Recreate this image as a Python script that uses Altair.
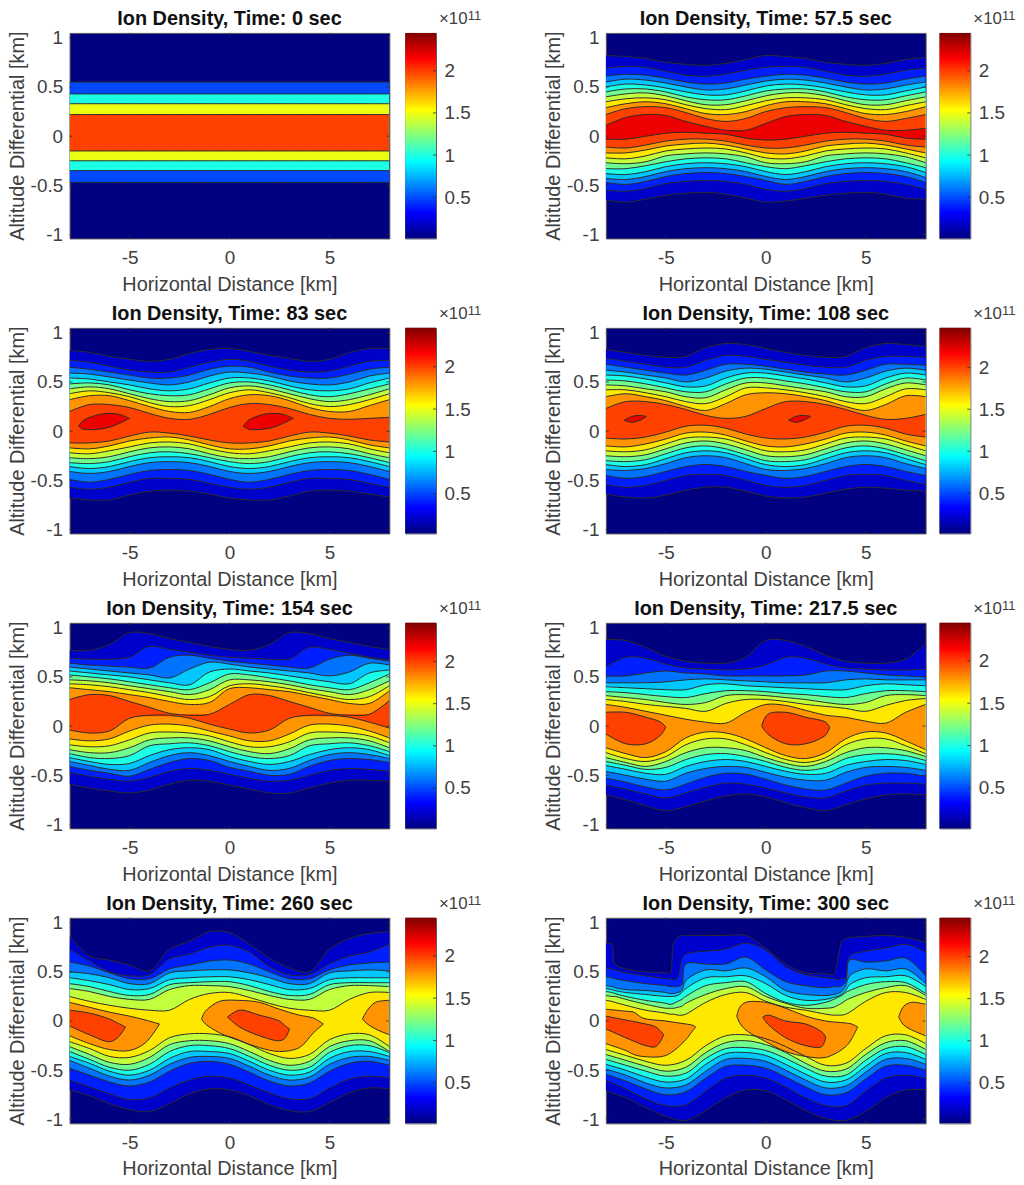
import pandas as pd
import altair as alt

# one x grid for most contour lines, km
X_KM = [-8, -7, -6, -5, -4, -3, -2, -1, 0, 1, 2, 3, 4, 5, 6, 7, 8]
# finer knots for the steep top edges in the last panel
X_KM_300 = [-8, -7.7, -7.55, -7, -6, -5, -4.8, -4.6, -4.4, -4.2, -4, -3, -2, -1, 0, 1, 2, 3,
            3.4, 3.6, 3.8, 4, 4.2, 5, 6, 7, 8]

TITLES = ["Ion Density, Time: 0 sec", "Ion Density, Time: 57.5 sec",
          "Ion Density, Time: 83 sec", "Ion Density, Time: 108 sec",
          "Ion Density, Time: 154 sec", "Ion Density, Time: 217.5 sec",
          "Ion Density, Time: 260 sec", "Ion Density, Time: 300 sec"]

# contour heights are in hundredths of a km, outermost line first
LEVELS_0 = [0.5, 1.0, 1.5, 2.0]
UP_0 = [[55] * 17, [43] * 17, [33] * 17, [22] * 17]
LOW_0 = [[-47] * 17, [-35] * 17, [-25] * 17, [-15] * 17]

LEVELS_575 = [0.2, 0.4, 0.6, 0.8, 1.0, 1.2, 1.4, 1.6, 1.8, 2.0, 2.2]
UP_575 = [
    [82, 81, 79, 75, 73, 72, 74, 78, 82, 81, 79, 75, 73, 72, 74, 78, 80],
    [69, 71, 70, 66, 62, 61, 63, 67, 70, 71, 70, 66, 62, 61, 63, 67, 69],
    [61, 63, 62, 59, 55, 53, 54, 58, 61, 63, 62, 59, 55, 53, 54, 58, 61],
    [55, 58, 57, 54, 50, 47, 48, 52, 56, 58, 57, 54, 50, 47, 48, 52, 55],
    [50, 53, 52, 49, 45, 42, 42, 46, 51, 53, 52, 49, 45, 42, 42, 46, 50],
    [45, 48, 48, 45, 40, 37, 37, 41, 46, 48, 48, 45, 40, 37, 37, 41, 45],
    [40, 43, 44, 41, 36, 32, 32, 36, 41, 44, 44, 41, 36, 32, 32, 36, 40],
    [35, 38, 39, 37, 32, 28, 27, 31, 36, 39, 39, 37, 32, 28, 27, 31, 35],
    [29, 33, 35, 33, 28, 23, 22, 25, 31, 35, 35, 33, 28, 23, 22, 25, 30],
    [22, 28, 30, 29, 24, 18, 15, 18, 25, 29, 30, 29, 24, 18, 15, 18, 22],
    [11, 19, 22, 21, 15, 10, 6, 6, 13, 20, 22, 21, 15, 10, 6, 6, 8],
]
LOW_575 = [
    [-65, -67, -64, -60, -58, -57, -59, -63, -67, -66, -63, -60, -58, -57, -59, -63, -64],
    [-55, -56, -53, -48, -46, -45, -46, -49, -54, -56, -53, -48, -46, -45, -46, -49, -54],
    [-47, -49, -46, -41, -38, -37, -38, -41, -45, -49, -46, -41, -38, -37, -38, -41, -47],
    [-43, -44, -41, -36, -33, -32, -33, -36, -41, -44, -41, -36, -33, -32, -33, -36, -42],
    [-38, -39, -36, -31, -28, -27, -28, -31, -36, -39, -36, -31, -28, -27, -28, -31, -37],
    [-33, -33, -30, -26, -23, -22, -23, -27, -31, -33, -30, -26, -23, -22, -23, -27, -32],
    [-27, -28, -26, -20, -18, -17, -18, -21, -27, -28, -26, -20, -18, -17, -18, -21, -27],
    [-22, -23, -20, -15, -13, -12, -13, -17, -22, -23, -20, -15, -13, -12, -13, -17, -22],
    [-17, -17, -14, -10, -8, -7, -9, -13, -17, -18, -15, -10, -8, -7, -9, -13, -17],
    [-11, -12, -9, -5, -3, -3, -5, -9, -12, -12, -9, -5, -3, -3, -5, -9, -11],
    [-3, -3, 0, 3, 4, 3, 2, -2, -4, -3, 0, 3, 4, 3, 2, -2, -3],
]

LEVELS_83 = [0.2, 0.4, 0.6, 0.8, 1.0, 1.2, 1.4, 1.6, 1.8, 2.0]
UP_83 = [
    [82, 80, 76, 73, 71, 73, 79, 83, 84, 81, 77, 74, 71, 73, 80, 84, 84],
    [72, 70, 66, 62, 60, 60, 65, 70, 73, 71, 66, 62, 60, 61, 66, 71, 72],
    [65, 63, 60, 57, 54, 54, 57, 63, 66, 65, 60, 56, 54, 54, 58, 63, 65],
    [59, 58, 55, 52, 49, 47, 50, 56, 60, 59, 56, 51, 48, 47, 50, 56, 59],
    [54, 53, 50, 47, 43, 41, 43, 49, 54, 54, 51, 46, 42, 41, 43, 49, 54],
    [48, 49, 47, 42, 38, 36, 37, 43, 49, 50, 47, 42, 37, 35, 38, 43, 48],
    [43, 45, 43, 38, 33, 30, 31, 37, 44, 46, 43, 38, 33, 30, 32, 37, 43],
    [38, 41, 39, 35, 29, 25, 26, 32, 39, 42, 39, 34, 28, 25, 27, 32, 38],
    [32, 36, 36, 31, 25, 20, 19, 25, 33, 37, 36, 31, 24, 20, 20, 26, 32],
    [20, 27, 27, 24, 18, 13, 12, 17, 24, 28, 27, 23, 17, 13, 12, 13, 14],
]
LOW_83 = [
    [-68, -70, -70, -65, -61, -60, -61, -64, -68, -70, -70, -66, -61, -60, -61, -64, -67],
    [-57, -59, -57, -52, -48, -48, -49, -53, -57, -59, -57, -52, -48, -48, -49, -53, -57],
    [-49, -52, -49, -44, -40, -39, -40, -44, -49, -52, -49, -44, -40, -39, -40, -44, -49],
    [-41, -43, -41, -36, -32, -31, -32, -36, -41, -43, -41, -36, -32, -31, -32, -36, -41],
    [-36, -38, -36, -31, -27, -26, -27, -31, -36, -38, -36, -31, -27, -26, -27, -31, -36],
    [-32, -33, -31, -26, -22, -21, -23, -27, -31, -33, -31, -26, -22, -21, -23, -27, -32],
    [-27, -28, -26, -21, -17, -16, -18, -23, -27, -28, -26, -21, -17, -16, -18, -23, -27],
    [-22, -23, -20, -16, -12, -11, -13, -18, -22, -23, -20, -16, -12, -11, -13, -18, -22],
    [-17, -18, -15, -10, -7, -6, -9, -14, -18, -18, -15, -10, -7, -6, -9, -14, -17],
    [-12, -12, -10, -5, -1, -2, -5, -9, -12, -12, -10, -5, -1, -2, -5, -9, -11],
]
ISLES_83 = [
    (2.2, [-7.55, -7.3, -6.5, -6, -5.5, -5], [5, 11, 17, 18, 17, 13], [5, 2, 2, 4, 8, 13]),
    (2.2, [0.7, 0.95, 1.7, 2.2, 2.7, 3.2], [5, 11, 17, 18, 17, 13], [5, 2, 2, 4, 8, 13]),
]

LEVELS_108 = [0.2, 0.4, 0.6, 0.8, 1.0, 1.2, 1.4, 1.6, 1.8, 2.0]
UP_108 = [
    [83, 80, 77, 75, 76, 85, 89, 88, 84, 80, 77, 75, 76, 85, 89, 88, 86],
    [74, 71, 68, 65, 65, 72, 77, 76, 73, 70, 67, 65, 65, 72, 76, 76, 75],
    [68, 65, 62, 59, 57, 62, 68, 68, 66, 63, 60, 58, 57, 62, 68, 68, 67],
    [62, 60, 57, 54, 50, 54, 61, 64, 63, 60, 57, 54, 50, 54, 61, 64, 62],
    [57, 56, 53, 49, 45, 46, 54, 59, 59, 56, 53, 49, 45, 46, 54, 59, 57],
    [52, 51, 48, 44, 40, 40, 48, 54, 54, 51, 48, 44, 40, 40, 48, 54, 52],
    [47, 46, 43, 40, 35, 34, 42, 49, 49, 46, 43, 40, 35, 35, 43, 49, 47],
    [42, 42, 39, 35, 30, 28, 35, 44, 44, 42, 39, 35, 30, 28, 35, 43, 42],
    [35, 38, 35, 31, 25, 21, 28, 37, 39, 38, 35, 31, 25, 21, 27, 36, 35],
    [23, 30, 30, 27, 22, 16, 13, 15, 23, 30, 30, 27, 22, 16, 12, 13, 17],
]
LOW_108 = [
    [-64, -67, -68, -65, -60, -57, -57, -61, -66, -68, -67, -63, -59, -57, -58, -60, -61],
    [-54, -57, -55, -50, -45, -44, -45, -50, -55, -57, -55, -50, -45, -44, -45, -50, -54],
    [-45, -48, -46, -41, -36, -34, -36, -41, -45, -48, -46, -41, -36, -34, -36, -41, -45],
    [-39, -40, -38, -33, -27, -25, -27, -33, -39, -40, -38, -33, -27, -25, -27, -33, -38],
    [-34, -36, -34, -28, -22, -20, -22, -28, -34, -36, -34, -28, -22, -20, -22, -28, -34],
    [-30, -31, -29, -23, -17, -15, -18, -24, -30, -31, -29, -23, -17, -15, -18, -24, -30],
    [-25, -26, -24, -18, -12, -10, -13, -19, -25, -26, -24, -18, -12, -10, -13, -19, -25],
    [-20, -21, -19, -13, -7, -6, -8, -14, -20, -21, -19, -13, -7, -6, -8, -14, -20],
    [-15, -16, -13, -8, -2, -1, -4, -10, -15, -16, -13, -8, -2, -1, -4, -10, -15],
    [-7, -8, -6, -1, 5, 6, 3, -3, -7, -8, -6, -1, 5, 6, 3, -3, -6],
]
ISLES_108 = [
    (2.2, [-7.08, -6.7, -6.3, -5.97], [11, 15, 16, 15], [11, 9, 11, 15]),
    (2.2, [1.14, 1.5, 1.9, 2.25], [11, 15, 16, 15], [11, 9, 11, 15]),
]

LEVELS_154 = [0.2, 0.4, 0.6, 0.8, 1.0, 1.2, 1.4, 1.6, 1.8, 2.0]
UP_154 = [
    [77, 77, 83, 95, 94, 89, 85, 81, 78, 77, 83, 95, 94, 89, 85, 81, 78],
    [69, 68, 68, 70, 81, 78, 75, 72, 70, 69, 68, 68, 80, 78, 74, 70, 67],
    [64, 62, 61, 60, 59, 70, 72, 69, 66, 64, 62, 60, 59, 68, 72, 69, 66],
    [60, 58, 56, 54, 52, 49, 58, 65, 63, 60, 58, 56, 54, 51, 55, 64, 62],
    [56, 54, 52, 50, 47, 44, 42, 55, 58, 56, 54, 51, 48, 45, 43, 54, 57],
    [52, 50, 48, 45, 42, 39, 37, 44, 53, 52, 49, 46, 42, 39, 37, 44, 53],
    [47, 46, 44, 41, 38, 35, 32, 37, 47, 47, 45, 42, 38, 35, 32, 37, 46],
    [43, 42, 40, 37, 34, 30, 27, 30, 41, 43, 41, 38, 34, 30, 27, 30, 41],
    [39, 37, 35, 32, 29, 25, 22, 24, 38, 39, 37, 35, 31, 27, 23, 23, 36],
    [27, 32, 31, 25, 19, 13, 11, 12, 22, 32, 31, 25, 19, 13, 11, 12, 26],
]
LOW_154 = [
    [-59, -63, -66, -68, -65, -59, -55, -56, -60, -64, -68, -68, -63, -58, -55, -55, -56],
    [-47, -51, -54, -56, -52, -46, -43, -45, -49, -53, -56, -55, -50, -45, -43, -44, -46],
    [-41, -45, -48, -51, -44, -37, -33, -35, -42, -46, -50, -49, -41, -35, -33, -34, -37],
    [-36, -40, -44, -45, -37, -30, -27, -30, -36, -41, -45, -43, -35, -29, -27, -29, -33],
    [-32, -36, -39, -38, -30, -24, -22, -24, -31, -36, -39, -36, -29, -24, -22, -24, -30],
    [-28, -32, -33, -30, -20, -18, -17, -20, -26, -31, -33, -30, -20, -18, -17, -20, -26],
    [-24, -27, -27, -22, -14, -12, -12, -15, -21, -26, -28, -23, -14, -12, -12, -15, -22],
    [-19, -21, -20, -14, -7, -6, -7, -10, -16, -21, -21, -16, -7, -6, -7, -10, -17],
    [-13, -15, -13, -5, 1, 2, 0, -5, -10, -15, -15, -8, 1, 2, 0, -5, -12],
    [-4, -7, -5, 8, 11, 11, 8, 2, -3, -7, -4, 8, 11, 11, 9, 4, -2],
]

LEVELS_217 = [0.2, 0.4, 0.6, 0.8, 1.0, 1.2, 1.4, 1.6, 1.8]
UP_217 = [
    [88, 87, 80, 71, 66, 64, 64, 70, 87, 87, 81, 72, 66, 64, 64, 68, 84],
    [60, 70, 69, 63, 59, 58, 57, 58, 62, 70, 69, 63, 59, 58, 57, 57, 58],
    [51, 51, 54, 56, 54, 53, 51, 51, 51, 51, 52, 56, 56, 54, 52, 51, 50],
    [44, 44, 44, 45, 47, 48, 47, 46, 45, 44, 44, 44, 47, 48, 47, 47, 47],
    [40, 39, 38, 37, 37, 42, 43, 41, 40, 39, 38, 37, 37, 41, 43, 42, 41],
    [35, 34, 32, 30, 29, 33, 36, 36, 35, 33, 32, 30, 29, 33, 36, 36, 35],
    [31, 29, 27, 24, 22, 24, 31, 32, 31, 29, 27, 24, 22, 24, 31, 32, 31],
    [27, 25, 22, 20, 18, 15, 23, 27, 27, 25, 22, 20, 18, 15, 21, 26, 28],
    [22, 19, 15, 11, 7, 4, 3, 14, 22, 21, 16, 11, 9, 5, 3, 14, 22],
]
LOW_217 = [
    [-70, -75, -81, -86, -82, -76, -71, -69, -72, -78, -83, -86, -80, -74, -70, -69, -70],
    [-60, -64, -69, -73, -68, -62, -58, -59, -63, -68, -72, -73, -66, -60, -58, -58, -59],
    [-53, -57, -62, -65, -59, -52, -48, -49, -54, -60, -64, -65, -58, -51, -48, -48, -51],
    [-46, -50, -54, -56, -48, -43, -41, -42, -47, -52, -55, -55, -47, -42, -41, -42, -45],
    [-40, -44, -48, -49, -41, -36, -34, -36, -41, -46, -49, -48, -40, -36, -34, -35, -39],
    [-36, -40, -44, -42, -34, -29, -28, -31, -36, -42, -45, -42, -33, -29, -28, -30, -35],
    [-32, -37, -41, -36, -27, -22, -22, -25, -32, -38, -41, -36, -27, -22, -22, -25, -31],
    [-27, -33, -36, -31, -19, -13, -13, -19, -27, -34, -37, -32, -19, -13, -13, -20, -28],
    [-22, -28, -32, -26, -12, -6, -7, -13, -22, -30, -33, -27, -13, -6, -7, -15, -24],
]
ISLES_217 = [
    (2.0, [-8, -7, -6, -5.25, -5], [14, 14, 9, 4, -1], [-8, -18, -18, -9, -1]),
    (2.0, [-0.2, 0.1, 1, 2, 3, 3.2], [0, 12, 14, 9, 4, -1], [0, -8, -18, -18, -9, -1]),
]

LEVELS_260 = [0.2, 0.4, 0.6, 0.8, 1.0, 1.2, 1.4, 1.6]
UP_260 = [
    [86, 66, 62, 57, 51, 73, 81, 91, 90, 78, 64, 54, 50, 73, 84, 89, 91],
    [73, 61, 50, 46, 47, 63, 68, 75, 77, 70, 55, 47, 47, 58, 66, 70, 78],
    [60, 56, 49, 43, 43, 53, 57, 61, 62, 58, 50, 43, 43, 52, 57, 59, 60],
    [50, 48, 44, 38, 38, 49, 51, 52, 52, 49, 44, 38, 38, 49, 51, 52, 51],
    [44, 41, 37, 32, 33, 42, 44, 45, 45, 42, 37, 32, 33, 42, 44, 44, 44],
    [38, 35, 30, 26, 27, 37, 39, 40, 40, 36, 30, 26, 27, 37, 39, 39, 39],
    [33, 30, 25, 22, 22, 32, 36, 36, 35, 31, 26, 22, 22, 32, 36, 36, 35],
    [25, 20, 16, 13, 11, 11, 22, 28, 29, 24, 18, 13, 11, 11, 22, 29, 29],
]
LOW_260 = [
    [-70, -76, -84, -90, -92, -84, -74, -69, -70, -76, -85, -91, -92, -83, -73, -68, -69],
    [-60, -67, -74, -80, -78, -68, -60, -56, -58, -65, -73, -79, -79, -68, -59, -56, -58],
    [-48, -55, -62, -66, -62, -51, -43, -41, -44, -52, -61, -66, -63, -51, -43, -41, -45],
    [-40, -48, -56, -60, -55, -44, -37, -36, -38, -46, -55, -60, -57, -44, -37, -36, -40],
    [-36, -43, -51, -55, -50, -38, -31, -31, -33, -41, -50, -55, -52, -38, -31, -31, -36],
    [-31, -39, -47, -50, -44, -31, -25, -25, -28, -36, -45, -50, -47, -32, -25, -25, -32],
    [-26, -34, -42, -44, -37, -24, -20, -20, -23, -31, -40, -45, -41, -26, -20, -20, -31],
    [-21, -28, -36, -37, -30, -17, -13, -13, -16, -24, -33, -38, -34, -19, -13, -14, -26],
]
ISLES_260 = [
    (1.8, [-8, -7, -6, -5, -4.2, -3.5], [19, 14, 9, 5, 1, -3], [-15, -23, -29, -30, -22, -3]),
    (1.8, [-1.4, -1.2, -0.5, 0.5, 1.5, 2.5, 3.5, 4.2, 4.7],
     [2, 10, 20, 21, 19, 12, 6, 3, -3], [2, -3, -12, -20, -27, -31, -27, -12, -3]),
    (1.8, [6.65, 6.9, 7.3, 8], [2, 11, 19, 21], [2, -3, -8, -14]),
    (2.0, [-8, -7, -6, -5.6, -5.2], [11, 8, 2, -2, -6], [-5, -14, -21, -17, -6]),
    (2.0, [-0.1, 0.5, 1.5, 2.5, 2.8, 3.0], [4, 11, 6, 0, -5, -8], [4, -6, -15, -20, -17, -8]),
]

LEVELS_300 = [0.2, 0.4, 0.6, 0.8, 1.0, 1.2, 1.4, 1.6]
UP_300 = [
    [79, 78, 58, 53, 50, 49, 48, 80, 85, 87, 87, 87, 87, 87, 74, 58, 49, 48, 47, 62, 80, 84, 85, 86, 87, 85, 80],
    [54, 53, 52, 49, 46, 43, 43, 42, 44, 62, 68, 71, 73, 79, 72, 55, 47, 44, 43, 42, 43, 44, 66, 71, 74, 78, 70],
    [45, 44, 43, 41, 38, 36, 35, 35, 35, 37, 58, 58, 58, 65, 52, 40, 36, 34, 35, 35, 36, 40, 62, 60, 61, 64, 46],
    [36, 35, 34, 32, 31, 29, 28, 28, 29, 31, 41, 52, 51, 54, 45, 31, 27, 26, 27, 28, 30, 36, 46, 53, 51, 53, 38],
    [33, 32, 31, 29, 27, 25, 25, 25, 26, 29, 33, 44, 45, 46, 38, 26, 21, 22, 24, 25, 27, 31, 37, 44, 45, 46, 35],
    [30, 29, 28, 25, 21, 18, 17, 18, 20, 22, 25, 36, 39, 40, 28, 19, 16, 19, 22, 24, 26, 29, 31, 37, 40, 39, 28],
    [26, 25, 25, 22, 17, 13, 13, 13, 14, 15, 18, 27, 33, 35, 25, 18, 13, 13, 14, 16, 18, 21, 23, 29, 34, 36, 26],
    [21, 20, 19, 16, 11, 8, 7, 7, 6, 6, 7, 19, 27, 29, 20, 14, 11, 7, 6, 6, 6, 7, 9, 20, 29, 29, 22],
]
LOW_300 = [
    [-71, -78, -88, -97, -101, -91, -78, -70, -71, -80, -91, -99, -101, -92, -78, -70, -70],
    [-60, -69, -79, -86, -85, -71, -58, -55, -58, -67, -78, -86, -86, -71, -58, -55, -58],
    [-54, -61, -69, -75, -72, -58, -46, -45, -48, -57, -67, -75, -73, -59, -46, -45, -50],
    [-49, -55, -63, -68, -65, -51, -39, -38, -41, -50, -60, -68, -66, -52, -39, -38, -44],
    [-44, -50, -57, -62, -59, -44, -33, -32, -35, -44, -54, -62, -60, -46, -33, -32, -39],
    [-39, -45, -51, -56, -53, -38, -28, -27, -30, -38, -48, -56, -55, -40, -28, -26, -34],
    [-34, -40, -46, -51, -47, -32, -22, -20, -24, -32, -43, -51, -49, -34, -22, -20, -29],
    [-29, -35, -41, -45, -40, -25, -15, -14, -18, -26, -36, -45, -43, -28, -15, -14, -23],
]
ISLES_300 = [
    (1.8, [-8, -7, -6.6, -6.15, -5, -4, -3.7, -3.5],
     [12, 10, 9, 3, 0, -3, -4, -6], [-23, -30, -34, -36, -35, -19, -11, -6]),
    (1.8, [-1.45, -1.3, -1, 0, 1, 2, 3, 4, 4.3, 4.6],
     [5, 14, 19, 19, 13, 5, 0, -2, -3, -6], [5, -2, -9, -21, -31, -36, -37, -26, -18, -6]),
    (1.8, [6.65, 6.9, 7.3, 8], [4, 15, 19, 17], [4, -4, -9, -15]),
    (2.0, [-8, -7, -6, -5.5, -5.1], [5, 1, -3, -6, -14], [-8, -17, -25, -26, -14]),
    (2.0, [-0.15, 0.1, 1, 2, 2.8, 3.0], [4, 6, 0, -3, -11, -16], [4, -3, -17, -25, -26, -16]),
]

# where each panel's upper and lower halves are joined, hundredths of a km
JOIN = [0, 5, 5, 9, 11, 0, 0, 0]
ROWS = [
    (LEVELS_0, UP_0, LOW_0, X_KM, []),
    (LEVELS_575, UP_575, LOW_575, X_KM, []),
    (LEVELS_83, UP_83, LOW_83, X_KM, ISLES_83),
    (LEVELS_108, UP_108, LOW_108, X_KM, ISLES_108),
    (LEVELS_154, UP_154, LOW_154, X_KM, []),
    (LEVELS_217, UP_217, LOW_217, X_KM, ISLES_217),
    (LEVELS_260, UP_260, LOW_260, X_KM, ISLES_260),
    (LEVELS_300, UP_300, LOW_300, X_KM_300, ISLES_300),
]

# colorbar limits per panel, x10^11
CB_LOW = [0.01, 0.01, 0.03, 0.02, 0.02, 0.02, 0.02, 0.02]
CB_HIGH = [2.45, 2.45, 2.46, 2.47, 2.46, 2.45, 2.45, 2.46]
CB_TICKS = [0.5, 1, 1.5, 2]

X_TICKS = [-5, 0, 5]
Y_TICKS = [-1, -0.5, 0, 0.5, 1]

JET_AT = [0.02, 0.325, 0.935, 1.545, 2.155, 2.46]
JET = ["#000080", "#0000ff", "#00ffff", "#ffff00", "#ff0000", "#800000"]
JET_STOPS = [0, 0.125, 0.375, 0.625, 0.875, 1]

W, H, CB_W = 322, 207, 31
FONT = "Liberation Sans"
INK = "#404040"
LINE = "#2b2b2b"
CURVE = "catmull-rom"

x_scale = alt.Scale(domain=[-8, 8], nice=False, zero=False)
y_scale = alt.Scale(domain=[-1.04, 1.05], nice=False, zero=False)
color_scale = alt.Scale(domain=JET_AT, range=JET, interpolate="rgb")

x_axis = alt.Axis(values=X_TICKS, title="Horizontal Distance [km]", ticks=False, grid=False, domain=False,
                  labelExpr="toString(datum.value)", labelFontSize=19, titleFontSize=20, labelPadding=10,
                  titlePadding=7, titleFontWeight="normal", labelColor=INK, titleColor=INK,
                  labelFont=FONT, titleFont=FONT)
y_axis = alt.Axis(values=Y_TICKS, title="Altitude Differential [km]", ticks=False, grid=False, domain=False,
                  labelExpr="toString(datum.value)", labelFontSize=19, titleFontSize=20, labelPadding=7,
                  titlePadding=3, titleFontWeight="normal", labelColor=INK, titleColor=INK,
                  labelFont=FONT, titleFont=FONT)


def panel(i):
    levels, ups, lows, xs_up, isles = ROWS[i]
    areas = []
    lines = []
    line_id = 0
    for k, level in enumerate(levels):
        rows = []
        # the two halves overlap by a hair so no seam shows where they join
        for x, y in zip(xs_up, ups[k]):
            rows.append({"x": x, "y": y / 100, "mid": (JOIN[i] - 1) / 100, "level": level, "part": "up"})
            lines.append({"x": x, "y": y / 100, "id": line_id})
        line_id += 1
        for x, y in zip(X_KM, lows[k]):
            rows.append({"x": x, "y": y / 100, "mid": (JOIN[i] + 1) / 100, "level": level, "part": "low"})
            lines.append({"x": x, "y": y / 100, "id": line_id})
        line_id += 1
        areas.append((level, pd.DataFrame(rows)))
    for level, xs, up, low in isles:
        rows = []
        for x, a, b in zip(xs, up, low):
            rows.append({"x": x, "y": a / 100, "mid": b / 100, "level": level, "part": "isle"})
            lines.append({"x": x, "y": a / 100, "id": line_id})
            lines.append({"x": x, "y": b / 100, "id": line_id + 1})
        line_id += 2
        areas.append((level, pd.DataFrame(rows)))
    areas.sort(key=lambda item: item[0])

    layers = []
    for level, df in areas:
        layers.append(alt.Chart(df).mark_area(interpolate=CURVE, clip=True).encode(
            x=alt.X("x:Q", scale=x_scale, axis=x_axis),
            y=alt.Y("y:Q", scale=y_scale, axis=y_axis, stack=False),
            y2=alt.Y2("mid:Q"),
            color=alt.Color("level:Q", scale=color_scale, legend=None),
            detail="part:N",
        ))
    layers.append(alt.Chart(pd.DataFrame(lines)).mark_line(
        interpolate=CURVE, clip=True, color=LINE, strokeWidth=1
    ).encode(
        x=alt.X("x:Q", scale=x_scale, axis=x_axis),
        y=alt.Y("y:Q", scale=y_scale, axis=y_axis),
        detail="id:N",
    ))

    # MATLAB style ticks, pointing into the box on all four sides
    xt = pd.DataFrame({"x": X_TICKS})
    yt = pd.DataFrame({"y": Y_TICKS})
    for a, b in [(0, 3), (H, H - 3)]:
        layers.append(alt.Chart(xt).mark_rule(color=LINE, strokeWidth=0.8).encode(
            x=alt.X("x:Q", scale=x_scale, axis=x_axis), y=alt.value(a), y2=alt.value(b)))
    for a, b in [(0, 3), (W, W - 3)]:
        layers.append(alt.Chart(yt).mark_rule(color=LINE, strokeWidth=0.8).encode(
            y=alt.Y("y:Q", scale=y_scale, axis=y_axis), x=alt.value(a), x2=alt.value(b)))

    return alt.layer(*layers).properties(
        width=W, height=H,
        title=alt.TitleParams(TITLES[i], fontSize=20, fontWeight="bold", color="#111111", font=FONT,
                              anchor="middle", offset=0),
        view=alt.ViewConfig(fill=JET[0]),
    )


def colorbar(i):
    cb_scale = alt.Scale(domain=[CB_LOW[i], CB_HIGH[i]], nice=False, zero=False)
    cb_axis = alt.Axis(values=CB_TICKS, orient="right", title=None, ticks=False, grid=False, domain=False,
                       labelExpr="toString(datum.value)", labelFontSize=19, labelPadding=8,
                       labelColor=INK, labelFont=FONT)
    gradient = alt.LinearGradient(
        gradient="linear", x1=0, x2=0, y1=1, y2=0,
        stops=[alt.GradientStop(color=c, offset=o) for c, o in zip(JET, JET_STOPS)],
    )
    bar = alt.Chart(pd.DataFrame({"lo": [CB_LOW[i]], "hi": [CB_HIGH[i]]})).mark_rect(color=gradient).encode(
        y=alt.Y("lo:Q", scale=cb_scale, axis=cb_axis),
        y2="hi:Q",
        x=alt.value(0),
        x2=alt.value(CB_W),
    )
    ticks = alt.Chart(pd.DataFrame({"v": CB_TICKS})).mark_rule(color=LINE, strokeWidth=0.8).encode(
        y=alt.Y("v:Q", scale=cb_scale, axis=cb_axis), x=alt.value(CB_W - 3), x2=alt.value(CB_W))
    times = alt.Chart(pd.DataFrame({"t": ["×10"]})).mark_text(
        align="left", baseline="alphabetic", fontSize=17, font=FONT, color=INK
    ).encode(text="t:N", x=alt.value(34), y=alt.value(-9))
    power = alt.Chart(pd.DataFrame({"t": ["11"]})).mark_text(
        align="left", baseline="alphabetic", fontSize=13, font=FONT, color=INK
    ).encode(text="t:N", x=alt.value(63), y=alt.value(-13))
    return alt.layer(bar, ticks, times, power).properties(width=CB_W, height=H)


rows = []
for r in range(4):
    left = alt.hconcat(panel(2 * r), colorbar(2 * r), spacing=14)
    right = alt.hconcat(panel(2 * r + 1), colorbar(2 * r + 1), spacing=12)
    rows.append(alt.hconcat(left, right, spacing=61))

chart = alt.vconcat(*rows, spacing=8).properties(
    padding={"left": -2, "top": -4, "right": 0, "bottom": 0}
).configure_view(stroke="#5a5a5a", strokeWidth=1)

chart.save("out.html", embed_options={"renderer": "svg", "actions": False})
